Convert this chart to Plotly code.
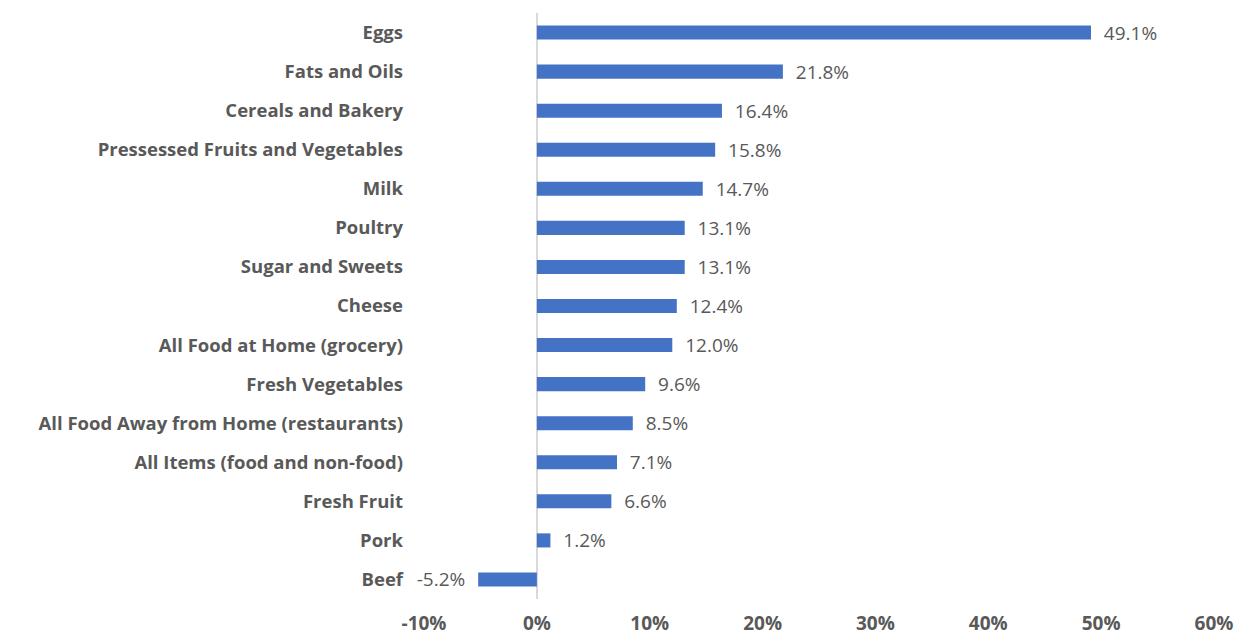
import plotly.graph_objects as go

categories = [
    "Eggs", "Fats and Oils", "Cereals and Bakery", "Pressessed Fruits and Vegetables",
    "Milk", "Poultry", "Sugar and Sweets", "Cheese", "All Food at Home (grocery)",
    "Fresh Vegetables", "All Food Away from Home (restaurants)",
    "All Items (food and non-food)", "Fresh Fruit", "Pork", "Beef",
]
values = [49.1, 21.8, 16.4, 15.8, 14.7, 13.1, 13.1, 12.4, 12.0, 9.6, 8.5, 7.1, 6.6, 1.2, -5.2]
x_ticks = [-10, 0, 10, 20, 30, 40, 50, 60]
x_tick_labels = [f"{t}%" for t in x_ticks]

NB = "\u00a0"
labels = [(NB * 2 + f"{v:.1f}%") if v >= 0 else (f"{v:.1f}%" + NB * 2) for v in values]

FONT = "Open Sans"
fig = go.Figure(go.Bar(
    y=categories, x=values, orientation="h",
    marker=dict(color="#4472C4", line=dict(width=0)),
    text=labels, textposition="outside", cliponaxis=False, constraintext="none",
    textfont=dict(family=FONT, size=19, color="#595959"),
    hoverinfo="skip",
))

fig.update_layout(
    width=1238, height=636,
    margin=dict(l=424, r=24, t=13, b=37, autoexpand=False),
    paper_bgcolor="white", plot_bgcolor="white",
    bargap=0.64, showlegend=False,
    font=dict(family=FONT, color="#595959"),
)
fig.update_xaxes(
    range=[-10, 60], tickvals=x_ticks, ticktext=x_tick_labels,
    showgrid=False, zeroline=True, zerolinecolor="#D9D9D9", zerolinewidth=2,
    showline=False, ticks="", ticklabelstandoff=11, automargin=False,
    tickfont=dict(family=FONT, size=19, color="#595959", weight="bold"),
)
fig.update_yaxes(
    categoryorder="array", categoryarray=categories, autorange="reversed",
    showgrid=False, zeroline=False, showline=False, ticks="", automargin=False,
    ticklabelstandoff=20,
    tickfont=dict(family=FONT, size=18.5, color="#595959", weight="bold"),
)

fig.write_html("out.html")
